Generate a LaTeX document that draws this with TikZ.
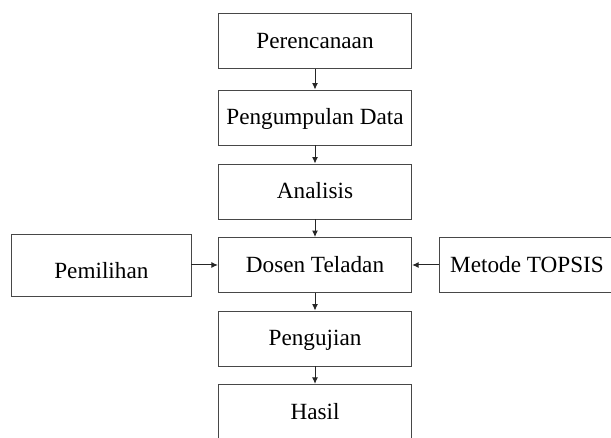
\documentclass[tikz,border=0pt]{standalone}
\usepackage{fontspec}
\setmainfont{Liberation Serif}
\usetikzlibrary{arrows.meta}
\definecolor{boxline}{HTML}{474747}
\tikzset{
  box/.style={draw=boxline, line width=0.9pt, rectangle, inner sep=0pt,
    minimum width=193.4pt, minimum height=55pt,
    font=\fontsize{23.2pt}{27pt}\selectfont, text height=15pt, text depth=0pt},
  conn/.style={draw=black!85, line width=1pt, -{Latex[length=6.5pt,width=6pt]}}
}
\begin{document}
\begin{tikzpicture}[x=1pt,y=-1pt]
\useasboundingbox (0,0) rectangle (611,438);
\node[box] (a) at (315,40.8) {Perencanaan};
\node[box] (b) at (315,117.5) {Pengumpulan Data};
\node[box] (c) at (315,191.5) {Analisis};
\node[box] (d) at (315,265) {Dosen Teladan};
\node[box] (e) at (315,338.5) {Pengujian};
\node[box] (f) at (315,411.8) {Hasil};
\node[box, minimum width=179.3pt, minimum height=62.7pt] (p) at (101.35,265.35) {\raisebox{-5.5pt}{Pemilihan}};
\node[box, minimum width=176pt] (m) at (527,265) {Metode TOPSIS};
\draw[conn] (a) -- (b);
\draw[conn] (b) -- (c);
\draw[conn] (c) -- (d);
\draw[conn] (d) -- (e);
\draw[conn] (e) -- (f);
\draw[conn] (p.east |- d.west) -- (d.west);
\draw[conn] (m.west |- d.east) -- (d.east);
\end{tikzpicture}
\end{document}
